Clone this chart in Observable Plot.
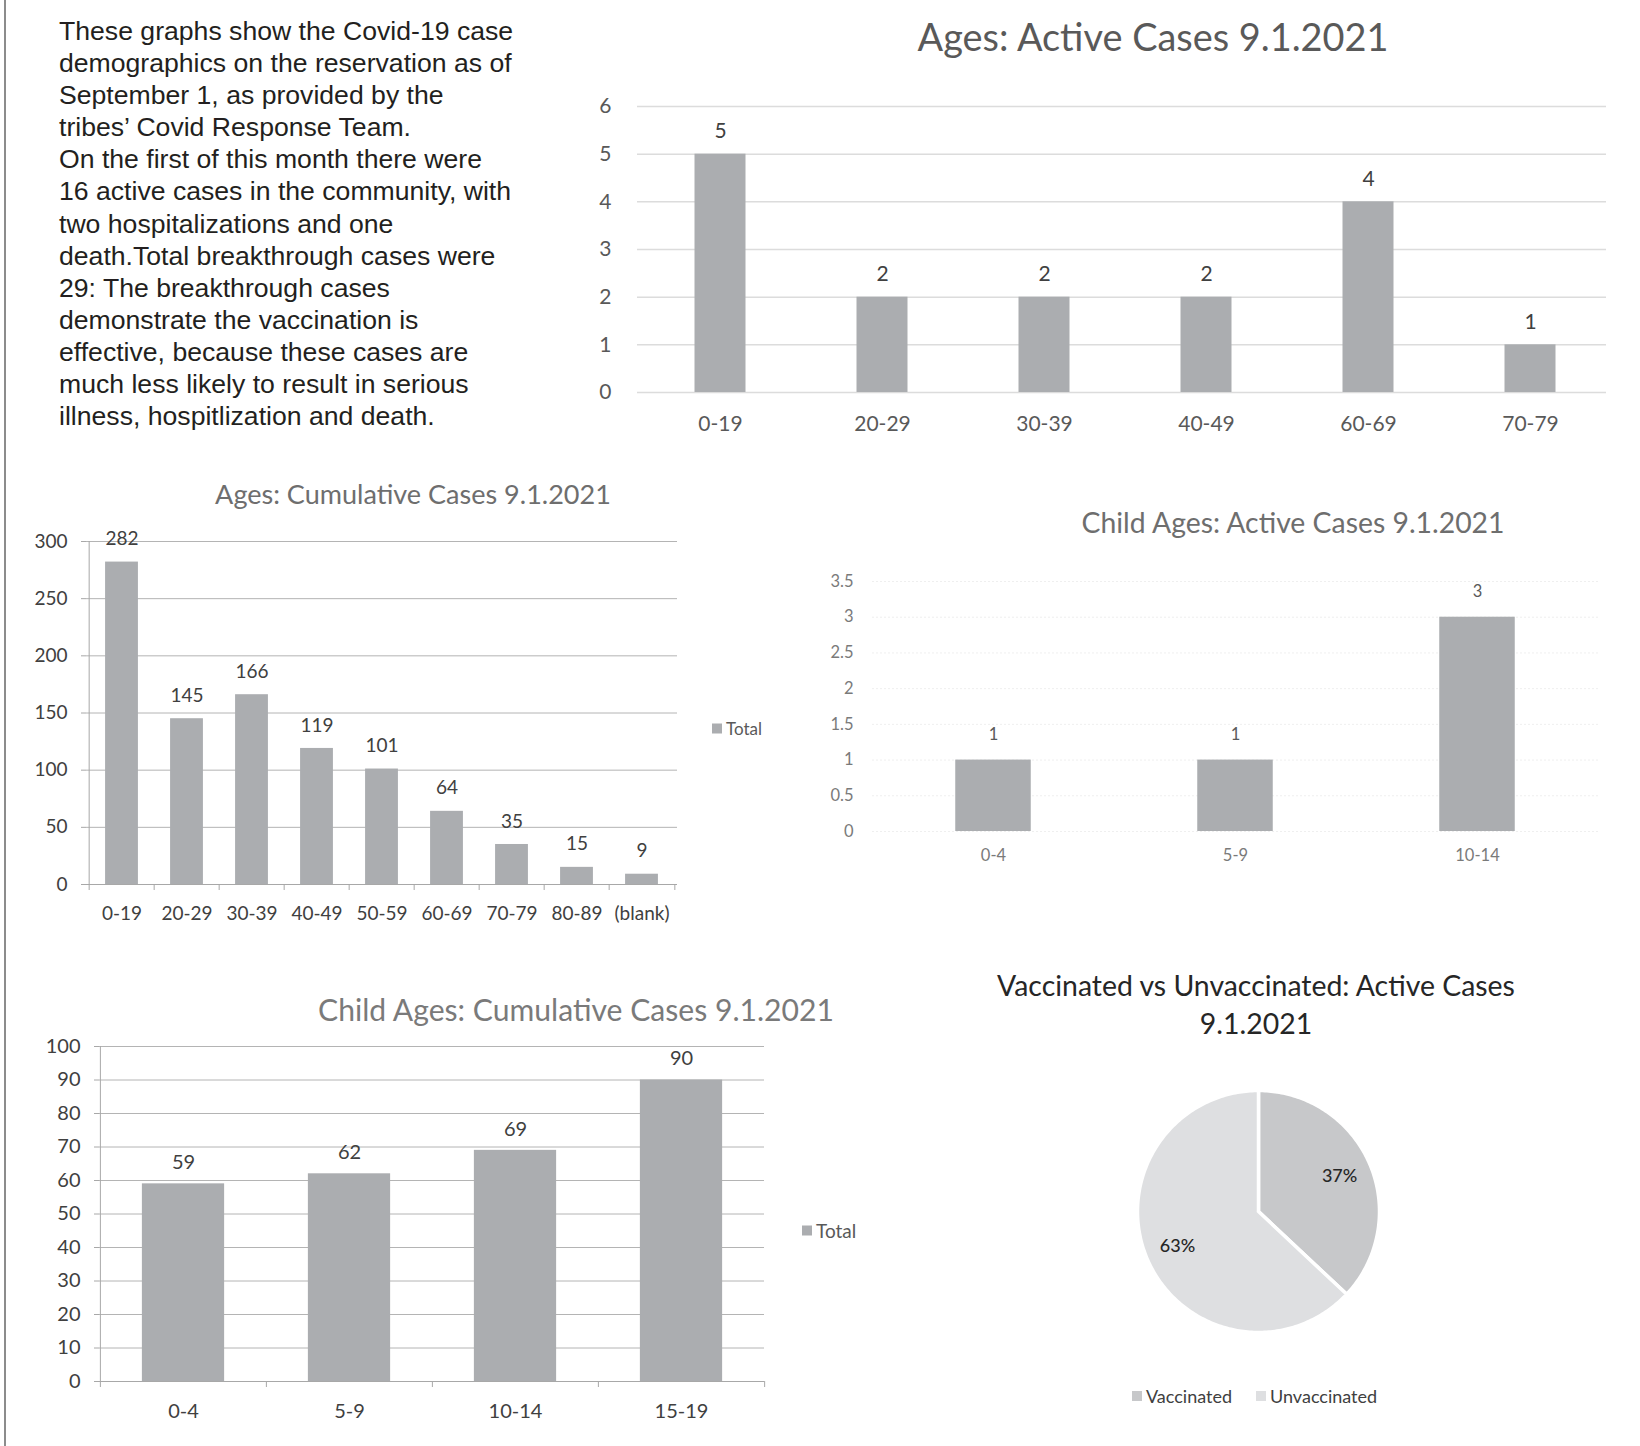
<!DOCTYPE html>
<html><head><meta charset="utf-8">
<script src="https://cdn.jsdelivr.net/npm/d3@7"></script>
<script src="https://cdn.jsdelivr.net/npm/@observablehq/plot@0.6"></script>
<style>
body{margin:0;background:#fff;}
#page{position:relative;width:1640px;height:1446px;overflow:hidden;background:#fff;font-family:Lato,sans-serif;}
.title{position:absolute;white-space:nowrap;transform:translate(-50%,-50%);font-family:Lato,sans-serif;line-height:1;}
#intro{position:absolute;left:59px;top:15px;font-family:"Liberation Sans",Arial,sans-serif;color:#231f20;white-space:nowrap;}
.leg{position:absolute;white-space:nowrap;font-family:Lato,sans-serif;color:#595959;transform:translateY(-50%);display:flex;align-items:center;}
.sw{display:inline-block;width:10px;height:10px;margin-right:4px;}
</style></head>
<body><div id="page"></div>
<script>
// ---------- data ----------
const introLines = [
  "These graphs show the Covid-19 case",
  "demographics on the reservation as of",
  "September 1, as provided by the",
  "tribes\u2019 Covid Response Team.",
  "On the first of this month there were",
  "16 active cases in the community, with",
  "two hospitalizations and one",
  "death.Total breakthrough cases were",
  "29: The breakthrough cases",
  "demonstrate the vaccination is",
  "effective, because these cases are",
  "much less likely to result in serious",
  "illness, hospitlization and death."
];
const activeAges = ["0-19","20-29","30-39","40-49","60-69","70-79"];
const activeCounts = [5,2,2,2,4,1];
const activeTicks = [0,1,2,3,4,5,6];

const cumAges = ["0-19","20-29","30-39","40-49","50-59","60-69","70-79","80-89","(blank)"];
const cumCounts = [282,145,166,119,101,64,35,15,9];
const cumTicks = [0,50,100,150,200,250,300];

const childActiveAges = ["0-4","5-9","10-14"];
const childActiveCounts = [1,1,3];
const childActiveTicks = [0,0.5,1,1.5,2,2.5,3,3.5];

const childCumAges = ["0-4","5-9","10-14","15-19"];
const childCumCounts = [59,62,69,90];
const childCumTicks = [0,10,20,30,40,50,60,70,80,90,100];

const vaxStatus = ["Vaccinated","Unvaccinated"];
const vaxShare = [37,63];
const vaxColors = ["#c7c8ca","#dedfe1"];

const barFill = "#abadb0";
const page = document.getElementById("page");

function place(node, left, top){
  node.style.position = "absolute"; node.style.left = left+"px"; node.style.top = top+"px";
  page.appendChild(node); return node;
}
function title(text, cx, cy, w, color){
  const d = document.createElement("div");
  d.className = "title"; d.textContent = text; d.style.color = color;
  d.style.left = cx+"px"; d.style.top = cy+"px"; d.style.fontSize = "40px";
  page.appendChild(d);
  const bw = d.getBoundingClientRect().width;
  d.style.fontSize = (40*w/bw).toFixed(2)+"px";
  return d;
}
function legend(items, left, cy, size, color){
  const d = document.createElement("div"); d.className="leg";
  d.style.left = left+"px"; d.style.top = cy+"px"; d.style.fontSize = size+"px";
  if(color) d.style.color = color;
  items.forEach(([lab,col],i)=>{
    const s = document.createElement("span"); s.className="sw"; s.style.background=col;
    if(i>0) s.style.marginLeft = "24px";
    const t = document.createElement("span"); t.textContent = lab;
    d.appendChild(s); d.appendChild(t);
  });
  page.appendChild(d); return d;
}

// left border
const border = document.createElement("div");
border.style.cssText = "width:1.5px;height:1446px;background:#8c8c8c;";
place(border, 4, 0);

// intro text
const intro = document.createElement("div"); intro.id = "intro";
intro.innerHTML = introLines.join("<br>");
page.appendChild(intro);
{
  const probe = document.createElement("span");
  probe.style.cssText = "position:absolute;visibility:hidden;white-space:nowrap;font-family:'Liberation Sans',Arial,sans-serif;font-size:40px;";
  probe.textContent = introLines[5]; page.appendChild(probe);
  const fs = 40*452/probe.getBoundingClientRect().width; probe.remove();
  intro.style.fontSize = fs.toFixed(2)+"px"; intro.style.lineHeight = "32.1px";
}

// ---------- Chart 1: Ages Active ----------
{
  const data = activeAges.map((a,i)=>({age:a,n:activeCounts[i]}));
  const W=1030, H=360, ml=47, mr=8, mt=16, mb=58;
  const step=(W-ml-mr)/activeAges.length, ins=(step-51.5)/2;
  const p = Plot.plot({
    width:W, height:H, marginLeft:ml, marginRight:mr, marginTop:mt, marginBottom:mb,
    style:{fontFamily:"Lato, sans-serif", fontSize:"21px", color:"#595959", background:"transparent", overflow:"visible"},
    x:{domain:activeAges, padding:0, label:null, tickSize:0, tickPadding:24},
    y:{domain:[0,6], ticks:activeTicks, label:null, tickSize:0, tickPadding:26, tickFormat:d3.format("d")},
    marks:[
      Plot.gridY(activeTicks,{stroke:"#dcdcdc", strokeOpacity:1, strokeWidth:1.5, insetRight:6}),
      Plot.barY(data,{x:"age", y:"n", fill:barFill, insetLeft:ins, insetRight:ins}),
      Plot.text(data,{x:"age", y:"n", text:d=>String(d.n), dy:-23, fill:"#404040", fontSize:21})
    ]
  });
  place(p, 590, 90);
  title("Ages: Active Cases 9.1.2021", 1153, 37, 471, "#595959");
}

// ---------- Chart 2: Ages Cumulative ----------
{
  const data = cumAges.map((a,i)=>({age:a,n:cumCounts[i]}));
  const W=680, H=420, ml=70, mr=19, mt=16, mb=61;
  const step=(W-ml-mr)/cumAges.length, ins=(step-33.5)/2;
  const last = cumAges[cumAges.length-1];
  const p = Plot.plot({
    width:W, height:H, marginLeft:ml, marginRight:mr, marginTop:mt, marginBottom:mb,
    style:{fontFamily:"Lato, sans-serif", fontSize:"19px", color:"#404040", background:"transparent", overflow:"visible"},
    x:{domain:cumAges, padding:0, label:null},
    y:{domain:[0,300], label:null},
    marks:[
      Plot.gridY(cumTicks.filter(t=>t>0),{stroke:"#b4b4b4", strokeOpacity:1}),
      Plot.barY(data,{x:"age", y:"n", fill:barFill, insetLeft:ins, insetRight:ins}),
      Plot.ruleY([0],{stroke:"#a8a8a8"}),
      Plot.ruleX([cumAges[0]],{x:d=>d, dx:-step/2, y1:0, y2:300, stroke:"#a8a8a8"}),
      Plot.ruleX(cumAges,{x:d=>d, dx:-step/2, y1:0, y2:0, insetBottom:-6, stroke:"#a8a8a8"}),
      Plot.ruleX([last],{x:d=>d, dx:step/2, y1:0, y2:0, insetBottom:-6, stroke:"#a8a8a8"}),
      Plot.axisY({ticks:cumTicks, tickSize:5, tickPadding:14, stroke:"#a8a8a8", fill:"#404040", label:null}),
      Plot.axisX({tickSize:0, tickPadding:22, fill:"#404040", label:null}),
      Plot.text(data,{x:"age", y:"n", text:d=>String(d.n), dy:-23, fill:"#404040", fontSize:19})
    ]
  });
  place(p, 16, 525);
  title("Ages: Cumulative Cases 9.1.2021", 413, 494, 396, "#6e6e6e");
  legend([["Total",barFill]], 712, 728, 17);
}

// ---------- Chart 3: Child Active ----------
{
  const data = childActiveAges.map((a,i)=>({age:a,n:childActiveCounts[i]}));
  const W=800, H=330, ml=52, mr=22, mt=26, mb=54;
  const step=(W-ml-mr)/childActiveAges.length, ins=(step-75.5)/2;
  const p = Plot.plot({
    width:W, height:H, marginLeft:ml, marginRight:mr, marginTop:mt, marginBottom:mb,
    style:{fontFamily:"Lato, sans-serif", fontSize:"16.5px", color:"#7a7a7a", background:"transparent", overflow:"visible"},
    x:{domain:childActiveAges, padding:0, label:null, tickSize:0, tickPadding:18},
    y:{domain:[0,3.5], ticks:childActiveTicks, label:null, tickSize:0, tickPadding:19, tickFormat:d=>String(d)},
    marks:[
      Plot.gridY(childActiveTicks,{stroke:"#efefef", strokeOpacity:1, strokeDasharray:"2,2"}),
      Plot.barY(data,{x:"age", y:"n", fill:barFill, insetLeft:ins, insetRight:ins}),
      Plot.text(data,{x:"age", y:"n", text:d=>String(d.n), dy:-25, fill:"#595959", fontSize:16.5})
    ]
  });
  place(p, 820, 555);
  title("Child Ages: Active Cases 9.1.2021", 1293, 522, 423, "#6e6e6e");
}

// ---------- Chart 4: Child Cumulative ----------
{
  const data = childCumAges.map((a,i)=>({age:a,n:childCumCounts[i]}));
  const W=790, H=410, ml=83, mr=42, mt=16, mb=59;
  const step=(W-ml-mr)/childCumAges.length, ins=(step-82.5)/2;
  const last = childCumAges[childCumAges.length-1];
  const p = Plot.plot({
    width:W, height:H, marginLeft:ml, marginRight:mr, marginTop:mt, marginBottom:mb,
    style:{fontFamily:"Lato, sans-serif", fontSize:"20px", color:"#404040", background:"transparent", overflow:"visible"},
    x:{domain:childCumAges, padding:0, label:null},
    y:{domain:[0,100], label:null},
    marks:[
      Plot.gridY(childCumTicks.filter(t=>t>0),{stroke:"#b4b4b4", strokeOpacity:1}),
      Plot.barY(data,{x:"age", y:"n", fill:barFill, insetLeft:ins, insetRight:ins}),
      Plot.ruleY([0],{stroke:"#a8a8a8"}),
      Plot.ruleX([childCumAges[0]],{x:d=>d, dx:-step/2, y1:0, y2:100, stroke:"#a8a8a8"}),
      Plot.ruleX(childCumAges,{x:d=>d, dx:-step/2, y1:0, y2:0, insetBottom:-6, stroke:"#a8a8a8"}),
      Plot.ruleX([last],{x:d=>d, dx:step/2, y1:0, y2:0, insetBottom:-6, stroke:"#a8a8a8"}),
      Plot.axisY({ticks:childCumTicks, tickSize:5, tickPadding:14, stroke:"#a8a8a8", fill:"#404040", label:null}),
      Plot.axisX({tickSize:0, tickPadding:22, fill:"#404040", label:null}),
      Plot.text(data,{x:"age", y:"n", text:d=>String(d.n), dy:-21, fill:"#404040", fontSize:20})
    ]
  });
  place(p, 16, 1030);
  title("Child Ages: Cumulative Cases 9.1.2021", 576, 1009, 516, "#7a7a7a");
  legend([["Total",barFill]], 802, 1230, 19);
}

// ---------- Chart 5: Pie ----------
{
  const pie = d3.pie().sort(null).startAngle(0).endAngle(2*Math.PI)(vaxShare);
  const pts = [];
  pie.forEach((s,i)=>{
    const name = vaxStatus[i];
    pts.push({status:name, x:0, y:0});
    const n = Math.max(2, Math.ceil((s.endAngle-s.startAngle)/(Math.PI/180)));
    for(let k=0;k<=n;k++){
      const a = s.startAngle + (s.endAngle-s.startAngle)*k/n;
      pts.push({status:name, x:Math.sin(a), y:Math.cos(a)});
    }
    pts.push({status:name, x:0, y:0});
  });
  const labs = pie.map((s,i)=>{
    const a=(s.startAngle+s.endAngle)/2;
    return {x:0.73*Math.sin(a), y:0.73*Math.cos(a), t:vaxShare[i]+"%"};
  });
  const W=340, H=290;
  const p = Plot.plot({
    width:W, height:H, marginLeft:51, marginRight:47, marginTop:20, marginBottom:28,
    style:{fontFamily:"Lato, sans-serif", fontSize:"18px", color:"#262626", background:"transparent", overflow:"visible"},
    x:{domain:[-1,1], axis:null}, y:{domain:[-1,1], axis:null},
    color:{domain:vaxStatus, range:vaxColors},
    marks:[
      Plot.line(pts,{x:"x", y:"y", z:"status", fill:"status", stroke:"white", strokeWidth:3.5, curve:"linear"}),
      Plot.text(labs,{x:"x", y:"y", text:"t", fill:"#262626", fontSize:18, fontWeight:500})
    ]
  });
  place(p, 1086, 1070);
  const t1 = title("Vaccinated vs Unvaccinated: Active Cases", 1256, 985, 518, "#262626");
  const t2 = document.createElement("div"); t2.className="title"; t2.textContent="9.1.2021";
  t2.style.color="#262626"; t2.style.left="1256px"; t2.style.top="1023px"; t2.style.fontSize=t1.style.fontSize;
  page.appendChild(t2);
  legend(vaxStatus.map((s,i)=>[s,vaxColors[i]]), 1132, 1396, 18, "#404040");
}
</script>
</body></html>
